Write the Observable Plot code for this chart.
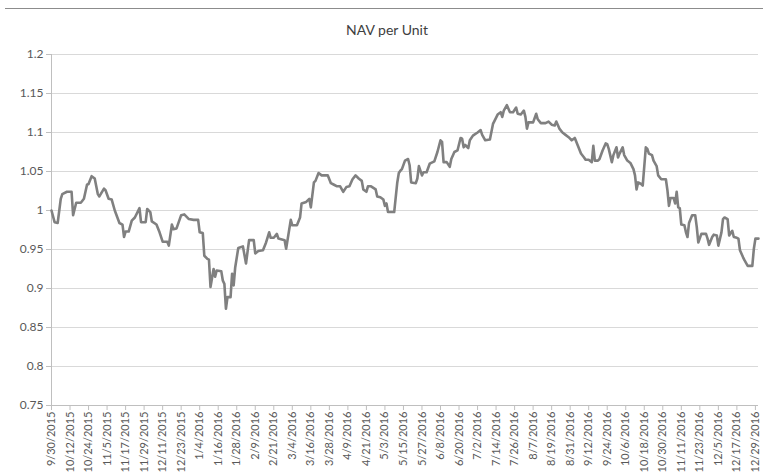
<!DOCTYPE html>
<html>
<head>
<meta charset="utf-8">
<script src="https://cdn.jsdelivr.net/npm/d3@7"></script>
<script src="https://cdn.jsdelivr.net/npm/@observablehq/plot@0.6"></script>
<style>
  html, body { margin: 0; padding: 0; background: #ffffff; }
  #chart { width: 763px; height: 476px; }
</style>
</head>
<body>
<div id="chart"></div>
<script>
// ---- data ----
const startDate = "9/30/2015";
const endDate = "12/31/2016";

// days after 9/30/2015
const days = [
  0, 2, 4, 6, 7, 10, 13, 14, 16, 19, 21, 23, 24, 26, 28, 30, 31, 34, 35, 37, 39, 41,
  44, 46, 47, 48, 50, 52, 54, 57, 58, 61, 62, 64, 65, 68, 70, 72, 75, 76, 78, 79, 81,
  84, 86, 89, 92, 95, 96, 98, 99, 101, 102, 103, 105, 106, 107, 110, 111, 112, 113, 114,
  116, 117, 118, 119, 121, 124, 126, 128, 131, 132, 134, 137, 139, 141, 142, 144, 146,
  147, 151, 152, 155, 156, 159, 161, 162, 165, 167, 168, 170, 171, 173, 175, 179, 181,
  183, 185, 187, 189, 191, 193, 195, 197, 199, 201, 202, 204, 205, 207, 210, 211, 213,
  215, 216, 217, 218, 222, 224, 225, 226, 227, 229, 231, 232, 233, 236, 237, 238, 240,
  241, 243, 245, 247, 248, 250, 252, 253, 254, 256, 258, 259, 261, 263, 265, 266, 267,
  268, 270, 271, 273, 276, 278, 279, 281, 284, 286, 287, 289, 291, 292, 293, 295, 297,
  299, 301, 302, 304, 306, 307, 308, 309, 312, 314, 315, 317, 320, 322, 324, 326, 327,
  329, 331, 333, 335, 337, 339, 341, 343, 345, 346, 348, 350, 351, 352, 354, 355, 357,
  359, 360, 361, 363, 364, 366, 367, 368, 370, 371, 373, 375, 377, 378, 379, 380, 382,
  383, 385, 386, 387, 389, 390, 392, 393, 395, 398, 399, 400, 401, 403, 404, 405, 406,
  407, 408, 410, 411, 412, 413, 415, 417, 418, 419, 421, 424, 425, 426, 428, 429, 431,
  432, 434, 435, 436, 438, 439, 441, 442, 444, 445, 446, 448, 449, 451, 454, 455, 456, 458
];

const nav = [
  1.0, 0.985, 0.984, 1.015, 1.021, 1.024, 1.024, 0.994, 1.01, 1.01, 1.015, 1.033, 1.034, 1.044, 1.041, 1.021, 1.018, 1.028, 1.026, 1.015, 1.014, 1.0,
  0.984, 0.982, 0.966, 0.973, 0.973, 0.987, 0.991, 1.003, 0.985, 0.985, 1.002, 0.998, 0.986, 0.982, 0.972, 0.96, 0.96, 0.955, 0.982, 0.976, 0.977,
  0.994, 0.995, 0.989, 0.988, 0.988, 0.972, 0.971, 0.942, 0.938, 0.937, 0.902, 0.925, 0.915, 0.923, 0.922, 0.91, 0.906, 0.874, 0.889,
  0.889, 0.919, 0.904, 0.927, 0.952, 0.954, 0.932, 0.962, 0.962, 0.945, 0.948, 0.949, 0.959, 0.972, 0.965, 0.965, 0.97,
  0.964, 0.962, 0.951, 0.988, 0.981, 0.981, 0.991, 1.009, 1.011, 1.015, 1.004, 1.036, 1.038, 1.048, 1.045, 1.045, 1.035,
  1.033, 1.031, 1.031, 1.024, 1.03, 1.031, 1.04, 1.045, 1.041, 1.038, 1.027, 1.024, 1.031, 1.031, 1.027, 1.018, 1.017,
  1.014, 1.006, 1.009, 0.998, 0.998, 1.036, 1.048, 1.051, 1.053, 1.064, 1.066, 1.058, 1.036, 1.035, 1.041, 1.057, 1.045,
  1.049, 1.049, 1.06, 1.062, 1.063, 1.075, 1.09, 1.088, 1.062, 1.062, 1.056, 1.066, 1.075, 1.077, 1.093, 1.092, 1.081,
  1.084, 1.08, 1.09, 1.096, 1.1, 1.103, 1.097, 1.09, 1.091, 1.111, 1.115, 1.123, 1.126, 1.12, 1.128, 1.135, 1.126,
  1.126, 1.132, 1.124, 1.123, 1.128, 1.12, 1.105, 1.113, 1.113, 1.124, 1.117, 1.112, 1.112, 1.114, 1.11, 1.109, 1.114,
  1.105, 1.1, 1.097, 1.094, 1.09, 1.093, 1.083, 1.073, 1.068, 1.065, 1.065, 1.062, 1.083, 1.064, 1.064, 1.066, 1.077,
  1.086, 1.085, 1.079, 1.062, 1.071, 1.081, 1.068, 1.073, 1.081, 1.071, 1.064, 1.061, 1.053, 1.045, 1.027, 1.036, 1.034,
  1.032, 1.081, 1.079, 1.073, 1.071, 1.064, 1.057, 1.045, 1.04, 1.04, 1.026, 1.006, 1.016, 1.016, 1.009, 1.024, 1.004,
  1.003, 0.982, 0.981, 0.972, 0.966, 0.984, 0.994, 0.994, 0.979, 0.959, 0.97, 0.97, 0.964, 0.956, 0.966, 0.969, 0.968,
  0.955, 0.972, 0.989, 0.991, 0.989, 0.968, 0.974, 0.966, 0.965, 0.964, 0.949, 0.94, 0.936, 0.929, 0.929, 0.951, 0.964, 0.964
];

const xTickLabels = [
  "9/30/2015", "10/12/2015", "10/24/2015", "11/5/2015", "11/17/2015", "11/29/2015",
  "12/11/2015", "12/23/2015", "1/4/2016", "1/16/2016", "1/28/2016", "2/9/2016",
  "2/21/2016", "3/4/2016", "3/16/2016", "3/28/2016", "4/9/2016", "4/21/2016",
  "5/3/2016", "5/15/2016", "5/27/2016", "6/8/2016", "6/20/2016", "7/2/2016",
  "7/14/2016", "7/26/2016", "8/7/2016", "8/19/2016", "8/31/2016", "9/12/2016",
  "9/24/2016", "10/6/2016", "10/18/2016", "10/30/2016", "11/11/2016", "11/23/2016",
  "12/5/2016", "12/17/2016", "12/29/2016"
];

const yTicks = [0.75, 0.8, 0.85, 0.9, 0.95, 1, 1.05, 1.1, 1.15, 1.2];

const title = "NAV per Unit";

// ---- build ----
const parse = d3.utcParse("%m/%d/%Y");
const start = parse(startDate);
const end = parse(endDate);
const data = days.map((d, i) => ({ date: d3.utcDay.offset(start, d), nav: nav[i] }));
const xTicks = xTickLabels.map(parse);
const labelByTime = new Map(xTicks.map((d, i) => [+d, xTickLabels[i]]));

const chart = Plot.plot({
  width: 763,
  height: 476,
  marginLeft: 51,
  marginRight: 5,
  marginTop: 54,
  marginBottom: 71,
  style: { fontFamily: "Lato, 'Open Sans', sans-serif", fontSize: "11px", color: "#595959", background: "#ffffff" },
  x: { type: "utc", domain: [start, end], label: null },
  y: { domain: [0.75, 1.2], label: null },
  marks: [
    Plot.gridY(yTicks.slice(1), { stroke: "#d9d9d9", strokeOpacity: 1, strokeWidth: 1 }),
    Plot.ruleY([0.75], { stroke: "#bfbfbf", strokeWidth: 1 }),
    Plot.ruleX([start], { stroke: "#bfbfbf", strokeWidth: 1 }),
    Plot.axisY(yTicks, {
      label: null, tickSize: 5, tickPadding: 3, stroke: "#bfbfbf", fill: "#595959",
      tickFormat: d => String(d), fontSize: 12
    }),
    Plot.axisX(xTicks, {
      label: null, tickRotate: -90, tickSize: 5, tickPadding: 1, stroke: "#bfbfbf", fill: "#595959",
      tickFormat: d => labelByTime.get(+d), fontSize: 11
    }),
    Plot.lineY(data, { x: "date", y: "nav", stroke: "#808080", strokeWidth: 2.6, strokeLinejoin: "round" }),
    Plot.text([title], { frameAnchor: "top", lineAnchor: "middle", dx: -18, dy: -24, fontSize: 14, fill: "#404040" })
  ]
});

// top border of the chart object
d3.select(chart).append("line")
  .attr("x1", 5).attr("x2", 763).attr("y1", 8.5).attr("y2", 8.5)
  .attr("stroke", "#8c8c8c").attr("stroke-width", 1);

document.getElementById("chart").appendChild(chart);
</script>
</body>
</html>
